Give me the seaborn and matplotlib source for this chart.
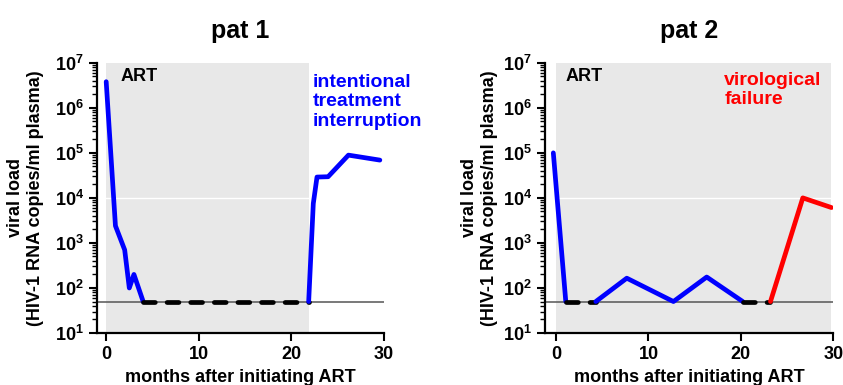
import numpy as np
import pandas as pd
import matplotlib
matplotlib.use("Agg")
import matplotlib.pyplot as plt
import seaborn as sns
from matplotlib.ticker import LogLocator, FuncFormatter, NullFormatter

# ── data ─────────────────────────────────────────────────────
pat1_months = [0, 1, 2, 2.5, 3, 4, 21.9, 22.4, 22.8, 24, 26.2, 29.6]
pat1_load = [3.8e6, 2400, 700, 100, 200, 50, 50, 7500, 29000, 29500, 89000, 69000]
# (start index, end index, kind) of each drawn piece
pat1_parts = [(0, 5, "detect"), (5, 6, "below"), (6, 11, "detect")]

pat2_months = [-0.3, 1.05, 4.3, 7.65, 12.7, 16.3, 20.2, 23.2, 26.7, 29.8]
pat2_load = [1e5, 50, 50, 165, 50, 175, 50, 50, 10000, 6100]
pat2_parts = [(0, 1, "detect"), (1, 2, "below"), (2, 6, "detect"),
              (6, 7, "below"), (7, 9, "failure")]

detection_limit = 50
art_end = [21.9, 29.7]
x_lo = [-1, -1.2]

titles = ["pat 1", "pat 2"]
notes = ["intentional\ntreatment\ninterruption", "virological\nfailure"]
note_colors = ["#0000FF", "#FF0000"]
note_pos = [(22.3, 1.35e6), (18.2, 2.5e6)]
art_pos = [(1.5, 4.9e6), (1.05, 4.9e6)]

styles = {"detect": dict(color="#0000FF", linestyle="-"),
          "failure": dict(color="#FF0000", linestyle="-"),
          "below": dict(color="black", linestyle=(0, (2.5, 2.5)),
                        dash_capstyle="round")}

# ── style ────────────────────────────────────────────────────
sns.set_style("ticks")
plt.rcParams["font.family"] = ["Liberation Sans", "DejaVu Sans"]
plt.rcParams["font.weight"] = "bold"
plt.rcParams["mathtext.fontset"] = "custom"
plt.rcParams["mathtext.rm"] = "Liberation Sans:bold"
plt.rcParams["mathtext.bf"] = "Liberation Sans:bold"
for key in ["text.color", "axes.labelcolor", "xtick.color", "ytick.color", "axes.edgecolor"]:
    plt.rcParams[key] = "black"

fig = plt.figure(figsize=(8.43, 3.85), dpi=100)
ax1 = fig.add_axes([0.115, 0.135, 0.340, 0.702])
ax2 = fig.add_axes([0.6465, 0.135, 0.342, 0.702])

datasets = [(pat1_months, pat1_load, pat1_parts),
            (pat2_months, pat2_load, pat2_parts)]
label_x = [-0.186, -0.163]

for i, ax in enumerate([ax1, ax2]):
    months, load, parts = datasets[i]
    ax.set_yscale("log")
    ax.axvspan(0, art_end[i], color="#E8E8E8", lw=0, zorder=0)
    ax.axhline(1e4, color="white", lw=1, zorder=1)
    ax.axhline(detection_limit, color="#555555", lw=1.1, zorder=2)

    for a, b, kind in parts:
        seg = pd.DataFrame({"month": months[a:b + 1], "load": load[a:b + 1]})
        sns.lineplot(data=seg, x="month", y="load", ax=ax, lw=3.4,
                     zorder=3, **styles[kind])

    ax.set_xlim(x_lo[i], 30)
    ax.set_ylim(10, 1e7)
    ax.set_xticks([0, 10, 20, 30])
    ax.yaxis.set_major_locator(LogLocator(base=10, numticks=10))
    ax.yaxis.set_minor_locator(LogLocator(base=10, subs=np.arange(2, 10), numticks=20))
    ax.yaxis.set_major_formatter(FuncFormatter(lambda v, p: r"$10^{%d}$" % round(np.log10(v))))
    ax.yaxis.set_minor_formatter(NullFormatter())
    ax.tick_params(axis="both", which="major", labelsize=13, length=6, width=1.5)
    ax.tick_params(axis="y", which="minor", length=3.5, width=1)
    for lab in ax.get_xticklabels():
        lab.set_fontweight("bold")

    sns.despine(ax=ax)
    for s in ["left", "bottom"]:
        ax.spines[s].set_linewidth(1.6)

    ax.set_title(titles[i], fontsize=18, fontweight="bold", pad=18)
    ax.set_xlabel("months after initiating ART", fontsize=13, fontweight="bold", labelpad=4)
    ax.set_ylabel("viral load\n(HIV-1 RNA copies/ml plasma)", fontsize=13,
                  fontweight="bold", linespacing=1.2)
    ax.yaxis.set_label_coords(label_x[i], 0.5)

    ax.text(art_pos[i][0], art_pos[i][1], "ART", fontsize=13, fontweight="bold",
            ha="left", va="center")
    ax.text(note_pos[i][0], note_pos[i][1], notes[i], fontsize=14, fontweight="bold",
            color=note_colors[i], ha="left", va="center", linespacing=1.2)

plt.savefig("out.png", dpi=100)
plt.close()
